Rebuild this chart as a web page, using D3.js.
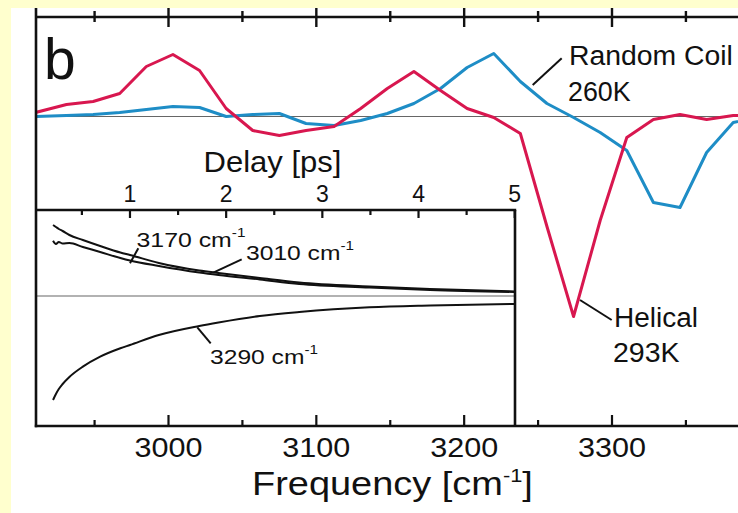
<!DOCTYPE html>
<html>
<head>
<meta charset="utf-8">
<script src="https://cdn.jsdelivr.net/npm/d3@7"></script>
<style>
  html, body { margin: 0; padding: 0; background: #FFFFCE; }
  svg { display: block; }
  text { font-family: "Liberation Sans", Arial, Helvetica, sans-serif; fill: #111; }
</style>
</head>
<body>
<svg id="chart" width="738" height="513"></svg>
<script>
// ---------------- data ----------------
const freq = [2910, 2931, 2949, 2967, 2985, 3003, 3021, 3039, 3057, 3075, 3093, 3112, 3130, 3148,
              3166, 3184, 3202, 3220, 3238, 3256, 3274, 3292, 3310, 3328, 3346, 3364, 3382, 3400];
const helical = [0.04, 0.12, 0.15, 0.23, 0.50, 0.62, 0.46, 0.08, -0.14, -0.19, -0.14, -0.10, 0.08, 0.28,
                 0.45, 0.26, 0.08, -0.01, -0.17, -1.10, -2.00, -1.04, -0.21, -0.03, 0.02, -0.03, 0.01, 0.01];
const randomCoil = [0.00, 0.01, 0.02, 0.04, 0.07, 0.10, 0.09, 0.00, 0.02, 0.03, -0.07, -0.09, -0.04, 0.03,
                    0.13, 0.28, 0.49, 0.63, 0.35, 0.13, -0.01, -0.16, -0.34, -0.86, -0.91, -0.36, -0.06, 0.00];
const freqTicks = [3000, 3100, 3200, 3300];

const delays = [0.20, 0.23, 0.26, 0.30, 0.37, 0.51, 0.69, 0.90, 1.00, 1.30, 1.72, 1.92, 2.35, 2.76, 3.49, 4.12, 5.00];
const k3010 = [0.71, 0.69, 0.67, 0.65, 0.61, 0.56, 0.50, 0.435, 0.41, 0.33, 0.255, 0.23, 0.18, 0.135, 0.095, 0.07, 0.045];
const k3170 = [0.553, 0.52, 0.54, 0.525, 0.53, 0.49, 0.44, 0.38, 0.355, 0.30, 0.235, 0.21, 0.165, 0.12, 0.085, 0.06, 0.04];
const k3290 = [-1.04, -0.98, -0.93, -0.88, -0.81, -0.707, -0.607, -0.523, -0.49, -0.39, -0.30, -0.265, -0.20, -0.16, -0.113, -0.095, -0.08];
const delayTicks = [1, 2, 3, 4, 5];

// ---------------- layout ----------------
const svg = d3.select("#chart");
const L = 36, T = 17, B = 426, R = 760;
const insetTop = 210, insetRight = 515;

svg.append("rect").attr("x", 11).attr("y", 8).attr("width", 738).attr("height", 520).attr("fill", "#fff");

const x = d3.scaleLinear().domain([3000, 3300]).range([168.5, 612]);
const y = d3.scaleLinear().domain([-3.095, 0.995]).range([B, T]);
const xd = d3.scaleLinear().domain([0, 5]).range([33.8, 514.7]);
const yd = d3.scaleLinear().domain([-1.3, 0.86]).range([B, insetTop]);

const RED = "#D8174F", BLUE = "#1E8DC6";

// zero line main
svg.append("line").attr("x1", L).attr("x2", 738).attr("y1", y(0)).attr("y2", y(0))
  .attr("stroke", "#666").attr("stroke-width", 1.2);

// main curves
const clip = svg.append("clipPath").attr("id", "mainClip").append("rect")
  .attr("x", L).attr("y", T).attr("width", 740).attr("height", B - T);
const line = d3.line().x(d => x(d[0])).y(d => y(d[1]));
svg.append("path").attr("clip-path", "url(#mainClip)")
  .datum(freq.map((f, i) => [f, randomCoil[i]]))
  .attr("d", line).attr("fill", "none").attr("stroke", BLUE).attr("stroke-width", 3).attr("stroke-linejoin", "round");
svg.append("path").attr("clip-path", "url(#mainClip)")
  .datum(freq.map((f, i) => [f, helical[i]]))
  .attr("d", line).attr("fill", "none").attr("stroke", RED).attr("stroke-width", 3).attr("stroke-linejoin", "round");

// inset box (white over curves)
svg.append("rect").attr("x", L).attr("y", insetTop).attr("width", insetRight - L).attr("height", B - insetTop)
  .attr("fill", "#fff");
svg.append("line").attr("x1", L).attr("x2", insetRight).attr("y1", yd(0)).attr("y2", yd(0))
  .attr("stroke", "#666").attr("stroke-width", 1.2);

svg.append("clipPath").attr("id", "insetClip").append("rect")
  .attr("x", L).attr("y", insetTop).attr("width", insetRight - L).attr("height", B - insetTop);
const dline = d3.line().x(d => xd(d[0])).y(d => yd(d[1])).curve(d3.curveMonotoneX);
[k3010, k3170, k3290].forEach(arr => {
  svg.append("path").attr("clip-path", "url(#insetClip)")
    .datum(delays.map((t, i) => [t, arr[i]]))
    .attr("d", dline).attr("fill", "none").attr("stroke", "#111").attr("stroke-width", 2);
});

// ---------------- axes ----------------
const axisG = svg.append("g").attr("stroke", "#111");
// left axis
axisG.append("line").attr("x1", L).attr("x2", L).attr("y1", 8).attr("y2", B + 1.2).attr("stroke-width", 2.6);
// top axis
axisG.append("line").attr("x1", L).attr("x2", 738).attr("y1", T).attr("y2", T).attr("stroke-width", 2.6);
// bottom axis
axisG.append("line").attr("x1", L - 1.2).attr("x2", 738).attr("y1", B).attr("y2", B).attr("stroke-width", 2.6);
// inset top and right
axisG.append("line").attr("x1", L).attr("x2", insetRight + 1.2).attr("y1", insetTop).attr("y2", insetTop).attr("stroke-width", 2.6);
axisG.append("line").attr("x1", insetRight).attr("x2", insetRight).attr("y1", insetTop).attr("y2", B).attr("stroke-width", 2.6);

const majorF = d3.range(3000, 3401, 100);
const minorF = d3.range(2950, 3401, 100);
// top ticks (crossing)
majorF.forEach(f => { if (x(f) < 740) axisG.append("line").attr("x1", x(f)).attr("x2", x(f)).attr("y1", 8).attr("y2", 27).attr("stroke-width", 2.4); });
minorF.forEach(f => { if (x(f) < 740) axisG.append("line").attr("x1", x(f)).attr("x2", x(f)).attr("y1", 11).attr("y2", 22).attr("stroke-width", 2.4); });
// bottom ticks (inward)
majorF.forEach(f => { if (x(f) < 740) axisG.append("line").attr("x1", x(f)).attr("x2", x(f)).attr("y1", B - 11).attr("y2", B).attr("stroke-width", 2.2); });
minorF.forEach(f => { if (x(f) < 740) axisG.append("line").attr("x1", x(f)).attr("x2", x(f)).attr("y1", B - 6).attr("y2", B).attr("stroke-width", 2.2); });
// inset ticks (down from inset top)
delayTicks.forEach(t => axisG.append("line").attr("x1", xd(t)).attr("x2", xd(t)).attr("y1", insetTop).attr("y2", insetTop + 8).attr("stroke-width", 2.2));
[0.5, 1.5, 2.5, 3.5, 4.5].forEach(t => axisG.append("line").attr("x1", xd(t)).attr("x2", xd(t)).attr("y1", insetTop).attr("y2", insetTop + 5).attr("stroke-width", 2.2));

// ---------------- text ----------------
function label(parts, px, py, size, anchor, target) {
  const g = svg.append("g");
  const t = g.append("text").attr("x", 0).attr("y", 0).attr("font-size", size).attr("text-anchor", anchor || "start");
  parts.forEach(p => {
    const ts = t.append("tspan").text(p.t);
    if (p.sup) ts.attr("font-size", p.sup).attr("dy", p.dy);
    if (p.back) ts.attr("dy", p.back);
  });
  let sx = 1;
  if (target) sx = target / t.node().getBBox().width;
  g.attr("transform", `translate(${px},${py}) scale(${sx},1)`);
  return g;
}

label([{t: "b"}], 44, 79, 57, "start");

label([{t: "Delay [ps]"}], 203.5, 172, 30, "start", 138);
delayTicks.forEach(t => label([{t: String(t)}], xd(t), 202, 23, "middle"));

freqTicks.forEach(f => label([{t: String(f)}], x(f), 457, 28, "middle", 68));
label([{t: "Frequency [cm"}, {t: "-1", sup: 19, dy: -13}, {t: "]", back: 13}], 252, 495, 33, "start", 281);

label([{t: "Random Coil"}], 569, 65, 28, "start", 164);
label([{t: "260K"}], 568, 101, 28, "start", 63);
label([{t: "Helical"}], 614, 327, 28, "start", 84);
label([{t: "293K"}], 613, 362, 28, "start", 67);

label([{t: "3170 cm"}, {t: "-1", sup: 13, dy: -10}], 136.5, 247, 21, "start", 109);
label([{t: "3010 cm"}, {t: "-1", sup: 13, dy: -10}], 246, 260, 21, "start", 108);
label([{t: "3290 cm"}, {t: "-1", sup: 13, dy: -10}], 210, 364, 21, "start", 108);

// connectors
const conn = [
  [[561.7, 58.3], [532.7, 85]],
  [[580, 300], [611.7, 320]],
  [[138.3, 248.3], [130, 263.3]],
  [[241.7, 259.3], [213.3, 272.7]],
  [[197.3, 327.3], [210.7, 343.3]]
];
conn.forEach(c => svg.append("line").attr("x1", c[0][0]).attr("y1", c[0][1]).attr("x2", c[1][0]).attr("y2", c[1][1])
  .attr("stroke", "#111").attr("stroke-width", 2));
</script>
</body>
</html>
